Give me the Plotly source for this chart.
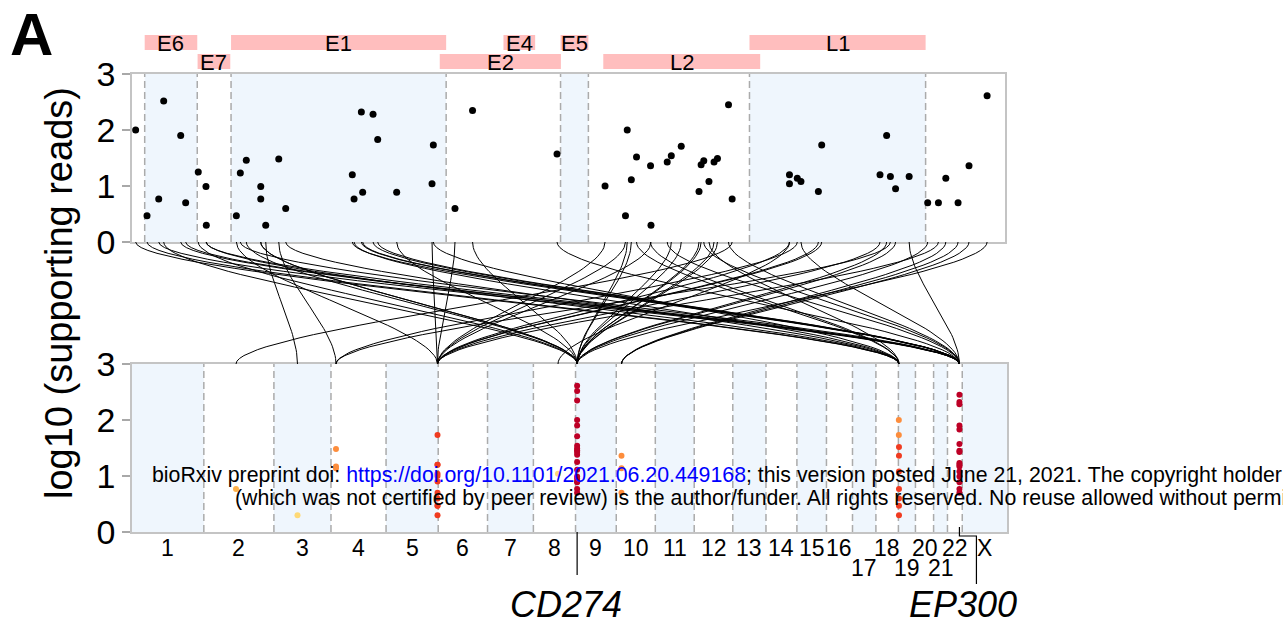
import plotly.graph_objects as go

W, H = 1283, 624
FONT = "Liberation Sans, Arial, sans-serif"

# hg19 chromosome sizes (Mb)
chrom_names = [str(i) for i in range(1, 23)] + ["X"]
chrom_len_mb = [249.25, 243.20, 198.02, 191.15, 180.92, 171.12, 159.14, 146.36,
                141.21, 135.53, 135.01, 133.85, 115.17, 107.35, 102.53, 90.35,
                81.20, 78.08, 59.13, 63.03, 48.13, 51.30, 155.27]
lower_row_labels = ["17", "19", "21"]

# HPV16 open reading frames (bp)
gene_names = ["E6", "E7", "E1", "E2", "E4", "E5", "L2", "L1"]
gene_start = [83, 562, 865, 2755, 3332, 3849, 4236, 5560]
gene_end = [559, 858, 2813, 3852, 3619, 4101, 5657, 7155]
gene_track = [0, 1, 0, 1, 0, 0, 1, 0]
shaded_genes = ["E6", "E1", "E5", "L1"]

# human integration loci
locus_names = ["2q", "3p", "4p", "5q", "8q", "CD274", "10p", "19p_a", "19p_b", "EP300"]
locus_chrom = ["2", "3", "4", "5", "8", "9", "10", "19", "19", "22"]
locus_mb = [111.6, 81.8, 17.4, 178.5, 85.4, 5.45, 18.2, 1.5, 2.0, 41.5]

# integration breakpoints: HPV position, log10 supporting reads, human locus
hpv_pos = [1, 104, 210, 255, 409, 454, 568, 638, 641, 913,
           949, 1003, 1134, 1134, 1179, 1297, 1360, 1963, 1979, 2045,
           2057, 2151, 2193, 2365, 2685, 2697, 2893, 3052, 3817, 4252,
           4437, 4453, 4490, 4537, 4664, 4668, 4815, 4852, 4942, 5103,
           5122, 5146, 5193, 5239, 5270, 5370, 5403, 5922, 5922, 5993,
           6026, 6184, 6214, 6742, 6802, 6836, 6883, 7006, 7174, 7271,
           7338, 7449, 7548, 7712]
log10_reads = [2.00, 0.47, 0.77, 2.52, 1.90, 0.70, 1.25, 0.99, 0.30, 0.47,
               1.23, 1.46, 0.99, 0.77, 0.30, 1.48, 0.60, 1.20, 0.77, 2.32,
               0.89, 2.28, 1.83, 0.89, 1.04, 1.73, 0.60, 2.35, 1.57, 1.00,
               0.47, 2.00, 1.11, 1.52, 1.36, 0.30, 1.43, 1.54, 1.71, 0.90,
               1.38, 1.45, 1.08, 1.43, 1.49, 2.45, 0.77, 1.20, 1.04, 1.14,
               1.08, 0.90, 1.73, 1.20, 1.90, 1.17, 0.95, 1.17, 0.70, 0.70,
               1.14, 0.70, 1.36, 2.61]
event_locus = ["19p_a", "19p_b", "EP300", "CD274", "EP300", "EP300", "CD274", "EP300", "19p_b", "5q",
               "EP300", "CD274", "CD274", "CD274", "3p", "4p", "19p_b", "EP300", "19p_b", "EP300",
               "EP300", "EP300", "EP300", "CD274", "5q", "19p_a", "5q", "CD274", "EP300", "5q",
               "5q", "CD274", "CD274", "19p_b", "19p_b", "5q", "EP300", "CD274", "CD274", "CD274",
               "CD274", "EP300", "19p_b", "CD274", "CD274", "EP300", "2q", "5q", "8q", "4p",
               "EP300", "5q", "5q", "5q", "CD274", "4p", "CD274", "EP300", "CD274", "5q",
               "10p", "10p", "10p", "CD274"]

# colour of each human locus
locus_color = {"2q": "#feb24c", "3p": "#fed976", "4p": "#fd8d3c", "5q": "#f03b20",
               "8q": "#fed976", "CD274": "#bd0026", "10p": "#fd8d3c",
               "19p_a": "#fd8d3c", "19p_b": "#f03b20", "EP300": "#bd0026"}

# ---------------------------------------------------------------- geometry
def px(x):
    return x / W


def py(y):
    return 1 - y / H


HPV_RANGE = [-32, 7874]
TOP_DOM = [px(132), px(1005)]
BOT_DOM = [px(132), px(1007)]
TOP_Y = [py(242), py(74)]
BOT_Y = [py(532), py(364)]
MID_Y = [py(364), py(242)]

chrom_offset = {}
acc = 0.0
for name, ln in zip(chrom_names, chrom_len_mb):
    chrom_offset[name] = acc
    acc += ln
GENOME_TOTAL = acc

locus_cum = {n: chrom_offset[c] + m for n, c, m in zip(locus_names, locus_chrom, locus_mb)}
event_cum = [locus_cum[l] for l in event_locus]


def top_paper_x(pos):
    return TOP_DOM[0] + (pos - HPV_RANGE[0]) / (HPV_RANGE[1] - HPV_RANGE[0]) * (TOP_DOM[1] - TOP_DOM[0])


def bot_paper_x(cum):
    return BOT_DOM[0] + cum / GENOME_TOTAL * (BOT_DOM[1] - BOT_DOM[0])


def link_curve(xa, xb, n=40, c=0.3):
    xs, ys = [], []
    for i in range(n + 1):
        t = i / n
        b0, b1, b2, b3 = (1 - t) ** 3, 3 * (1 - t) ** 2 * t, 3 * (1 - t) * t ** 2, t ** 3
        xs.append(b0 * xa + b1 * xa + b2 * xb + b3 * xb)
        ys.append(b0 * 1 + b1 * (1 - c) + b2 * c + b3 * 0)
    return xs, ys


def label(x, y, text, size, xref="paper", **kw):
    d = dict(x=x, y=y, xref=xref, yref="paper", text=text, showarrow=False,
             xanchor="center", yanchor="middle", font=dict(family=FONT, size=size, color="black"))
    d.update(kw)
    return d


# ---------------------------------------------------------------- traces
fig = go.Figure()

curve_x, curve_y = [], []
for pos, cum in zip(hpv_pos, event_cum):
    cx, cy = link_curve(top_paper_x(pos), bot_paper_x(cum))
    curve_x += cx + [None]
    curve_y += cy + [None]
fig.add_trace(go.Scatter(x=curve_x, y=curve_y, mode="lines", xaxis="x3", yaxis="y3",
                         line=dict(color="black", width=1), hoverinfo="skip", showlegend=False))

fig.add_trace(go.Scatter(x=hpv_pos, y=log10_reads, mode="markers", xaxis="x", yaxis="y",
                         marker=dict(color="black", size=7), showlegend=False))

fig.add_trace(go.Scatter(x=event_cum, y=log10_reads, mode="markers", xaxis="x2", yaxis="y2",
                         marker=dict(color=[locus_color[l] for l in event_locus], size=6),
                         showlegend=False))

# ---------------------------------------------------------------- shapes
shapes = []
annotations = []
SHADE = "#eff6fd"
DASH = dict(color="#ababab", width=1.5, dash="7px,4px")

for name, s, e in zip(gene_names, gene_start, gene_end):
    if name in shaded_genes:
        shapes.append(dict(type="rect", xref="x", yref="y domain", x0=s, x1=e, y0=0, y1=1,
                           fillcolor=SHADE, line=dict(width=0), layer="below"))
        for xv in (s, e):
            shapes.append(dict(type="line", xref="x", yref="y domain", x0=xv, x1=xv, y0=0, y1=1,
                               line=DASH, layer="below"))

track_y = [(35, 50), (54, 69)]
for name, s, e, tr in zip(gene_names, gene_start, gene_end, gene_track):
    y_top, y_bot = track_y[tr]
    shapes.append(dict(type="rect", xref="x", yref="paper", x0=s, x1=e,
                       y0=py(y_bot), y1=py(y_top), fillcolor="#ffbebe", line=dict(width=0)))
    annotations.append(label((s + e) / 2, py((y_top + y_bot) / 2 + 1), name, 22, xref="x"))

for i, name in enumerate(chrom_names):
    start = chrom_offset[name]
    end = start + chrom_len_mb[i]
    if i % 2 == 0:
        shapes.append(dict(type="rect", xref="x2", yref="y2 domain", x0=start, x1=end, y0=0, y1=1,
                           fillcolor=SHADE, line=dict(width=0), layer="below"))
    if i > 0:
        shapes.append(dict(type="line", xref="x2", yref="y2 domain", x0=start, x1=start, y0=0, y1=1,
                           line=DASH, layer="below"))
    row_y = 568 if name in lower_row_labels else 548
    annotations.append(label((start + end) / 2, py(row_y), name, 23, xref="x2"))

# gene call-outs below the genome axis
mb_per_px = GENOME_TOTAL / (1007 - 132)
cd = locus_cum["CD274"]
shapes.append(dict(type="line", xref="x2", yref="paper", x0=cd, x1=cd, y0=py(532), y1=py(575),
                   line=dict(color="black", width=1.2)))
ep = locus_cum["EP300"]
ep2 = ep + 17 * mb_per_px
shapes.append(dict(type="path", xref="x2", yref="paper",
                   path=f"M {ep},{py(527)} L {ep},{py(536)} L {ep2},{py(536)} L {ep2},{py(584)}",
                   line=dict(color="black", width=1.2)))
annotations.append(label(cd, py(604), "<i>CD274</i>", 36, xref="x2", xshift=-11))
annotations.append(label(ep, py(604), "<i>EP300</i>", 36, xref="x2", xshift=4))

# panel letter and shared axis title
annotations.append(label(px(8), py(34), "<b>A</b>", 60, xanchor="left"))
annotations.append(label(px(59), py(293), "log10 (supporting reads)", 38, textangle=-90))

# preprint stamp
annotations.append(label(px(150), py(475),
                         'bioRxiv preprint doi: <span style="color:#0000ff">https://doi.org/10.1101/2021.06.20.449168</span>; '
                         'this version posted June 21, 2021. The copyright holder for this preprint',
                         21.3, xanchor="left"))
annotations.append(label(px(233), py(498),
                         "(which was not certified by peer review) is the author/funder. "
                         "All rights reserved. No reuse allowed without permission.",
                         21.3, xanchor="left"))

# ---------------------------------------------------------------- axes
frame = dict(showline=True, mirror=True, linecolor="#c4c4c4", linewidth=1.5,
             showgrid=False, zeroline=False, automargin=False)
yticks = dict(tickvals=[0, 1, 2, 3], ticks="outside", ticklen=8, tickwidth=1.5, tickcolor="#a8a8a8",
              tickfont=dict(family=FONT, size=34, color="black"), range=[0, 3])

fig.update_layout(
    width=W, height=H, margin=dict(l=0, r=0, t=0, b=0, pad=0), autosize=False,
    paper_bgcolor="white", plot_bgcolor="white", showlegend=False,
    xaxis=dict(domain=TOP_DOM, range=HPV_RANGE, anchor="y", showticklabels=False, ticks="", **frame),
    yaxis=dict(domain=TOP_Y, anchor="x", **yticks, **frame),
    xaxis2=dict(domain=BOT_DOM, range=[0, GENOME_TOTAL], anchor="y2", showticklabels=False, ticks="", **frame),
    yaxis2=dict(domain=BOT_Y, anchor="x2", **yticks, **frame),
    xaxis3=dict(domain=[0, 1], range=[0, 1], anchor="y3", visible=False, automargin=False),
    yaxis3=dict(domain=MID_Y, range=[0, 1], anchor="x3", visible=False, automargin=False),
    shapes=shapes, annotations=annotations,
)

fig.write_html("out.html")
